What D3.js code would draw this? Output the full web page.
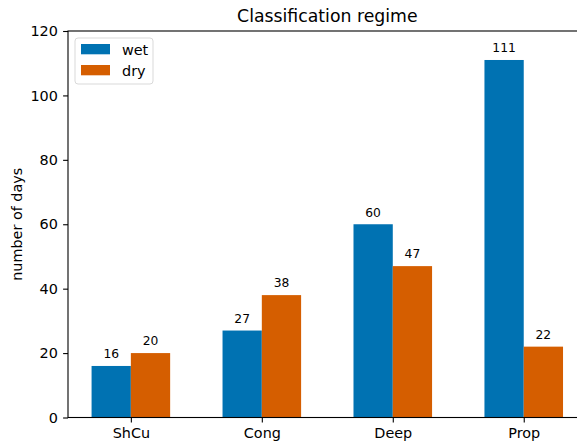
<!DOCTYPE html>
<html><head><meta charset="utf-8">
<script src="https://cdn.jsdelivr.net/npm/d3@7"></script>
<style>
body{margin:0;background:#fff;}
svg{display:block;font-family:"DejaVu Sans",sans-serif;}
</style></head>
<body>
<svg id="c" width="577" height="443"></svg>
<script>
const categories = ["ShCu","Cong","Deep","Prop"];
const wet = [16,27,60,111];
const dry = [20,38,47,22];
const seriesNames = ["wet","dry"];
const yTicks = [0,20,40,60,80,100,120];
const colors = ["#0072B2","#D55E00"];

const svg = d3.select("#c");
const L = 68, R = 586.6, T = 31, B = 417.5;
const x = d3.scaleLinear().domain([-0.48, 3.48]).range([L, R]);
const y = d3.scaleLinear().domain([0, 120]).range([B, T]);
const w = 0.3;
const FS = 14.4;

const series = [wet, dry];
series.forEach((vals, si) => {
  const off = si === 0 ? -w/2 : w/2;
  const g = svg.append("g");
  g.selectAll("rect").data(vals).join("rect")
    .attr("x", (d,i) => x(i + off - w/2))
    .attr("width", (d,i) => x(i + off + w/2) - x(i + off - w/2))
    .attr("y", d => y(d))
    .attr("height", d => y(0) - y(d))
    .attr("fill", colors[si]);
  g.selectAll("text").data(vals).join("text")
    .attr("x", (d,i) => x(i + off))
    .attr("y", d => y(d) - 7.7)
    .attr("text-anchor", "middle")
    .attr("font-size", 12.3)
    .attr("fill", "#000")
    .text(d => d);
});

// axes
const yAxis = d3.axisLeft(y).tickValues(yTicks).tickSize(4.9).tickPadding(5.2);
const gy = svg.append("g").attr("transform", `translate(${L},0)`).call(yAxis);
gy.select(".domain").remove();
gy.selectAll("text").attr("font-size", FS).attr("font-family","DejaVu Sans").attr("fill","#000");
gy.selectAll("line").attr("stroke","#000").attr("stroke-width",1.1);

const xAxis = d3.axisBottom(x).tickValues(d3.range(categories.length)).tickFormat(i => categories[i]).tickSize(4.9).tickPadding(5.4);
const gx = svg.append("g").attr("transform", `translate(0,${B})`).call(xAxis);
gx.select(".domain").remove();
gx.selectAll("text").attr("font-size", FS).attr("font-family","DejaVu Sans").attr("fill","#000");
gx.selectAll("line").attr("stroke","#000").attr("stroke-width",1.1);

// spines
svg.append("rect").attr("x", L).attr("y", T).attr("width", R - L).attr("height", B - T)
  .attr("fill","none").attr("stroke","#000").attr("stroke-width",1.1);

// title
svg.append("text").attr("x", (L+R)/2).attr("y", 21.7).attr("text-anchor","middle")
  .attr("font-size", 17.3).attr("fill","#000").text("Classification regime");

// y label
svg.append("text").attr("transform", `translate(21.5,${(T+B)/2}) rotate(-90)`)
  .attr("text-anchor","middle").attr("font-size", FS).attr("fill","#000").text("number of days");

// legend
const lg = svg.append("g");
lg.append("rect").attr("x",75).attr("y",38).attr("width",78).attr("height",46).attr("rx",3)
  .attr("fill","#fff").attr("fill-opacity",0.8).attr("stroke","#d9d9d9").attr("stroke-width",1);
seriesNames.forEach((n, i) => {
  lg.append("rect").attr("x",81).attr("y",44 + i*21).attr("width",29).attr("height",10.3).attr("fill",colors[i]);
  lg.append("text").attr("x",122).attr("y",55 + i*21).attr("font-size",FS).attr("fill","#000").text(n);
});
</script>
</body></html>
